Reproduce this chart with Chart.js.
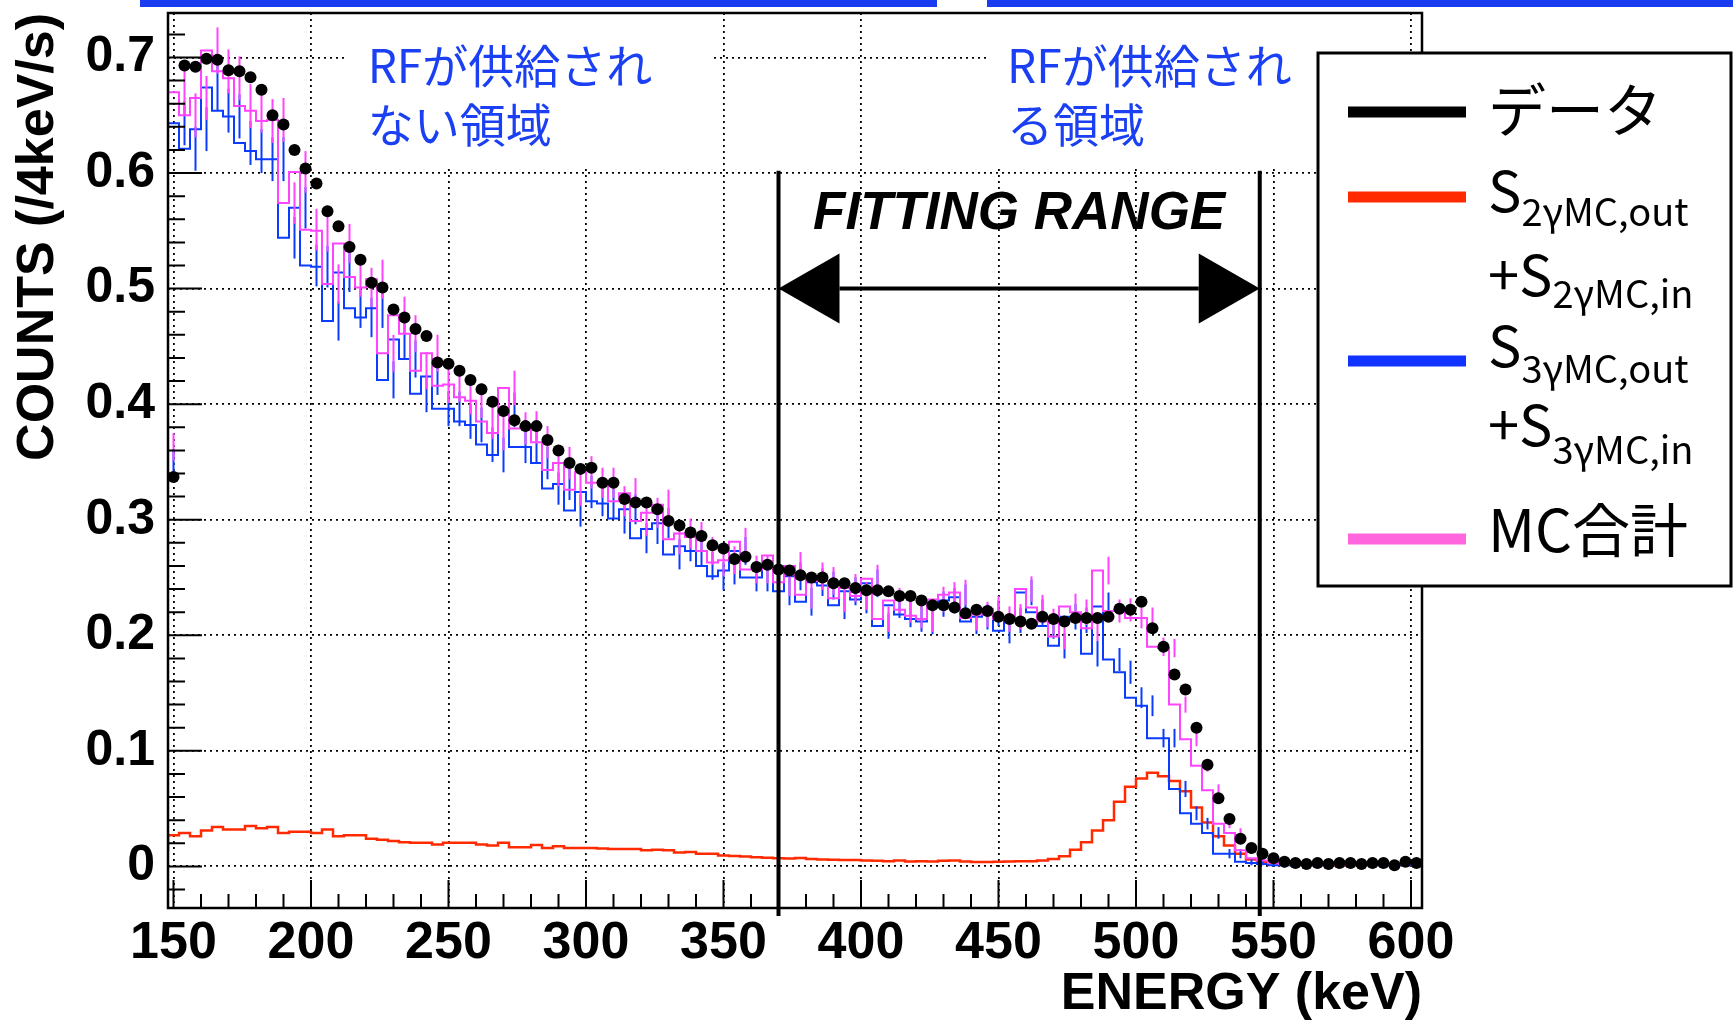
<!DOCTYPE html>
<html>
<head>
<meta charset="utf-8">
<script src="https://cdn.jsdelivr.net/npm/chart.js@4.4.0/dist/chart.umd.min.js"></script>
<style>
  html, body { margin: 0; padding: 0; background: #fff; }
  #wrap { width: 1733px; height: 1021px; position: relative; }
</style>
</head>
<body>
<div id="wrap"><canvas id="spectrum"></canvas></div>
<script>
// 4 keV bins from 148 keV
const binStart = 148;
const binWidth = 4;
const xTicks = [150, 200, 250, 300, 350, 400, 450, 500, 550, 600];
const yTicks = [0, 0.1, 0.2, 0.3, 0.4, 0.5, 0.6, 0.7];
const fitRange = [370, 545];

// data (black points)
const dataCounts = [
  0.337,0.693,0.692,0.699,0.698,0.689,0.688,0.683,0.672,0.650,
  0.642,0.620,0.604,0.591,0.567,0.554,0.536,0.525,0.505,0.501,
  0.482,0.475,0.465,0.459,0.436,0.435,0.429,0.421,0.413,0.402,
  0.394,0.386,0.381,0.381,0.369,0.360,0.349,0.344,0.345,0.332,
  0.332,0.318,0.315,0.315,0.309,0.299,0.295,0.289,0.286,0.278,
  0.275,0.266,0.268,0.259,0.261,0.257,0.256,0.252,0.250,0.250,
  0.245,0.245,0.241,0.239,0.239,0.238,0.234,0.234,0.230,0.226,
  0.226,0.224,0.219,0.222,0.221,0.216,0.214,0.212,0.210,0.216,
  0.214,0.212,0.215,0.215,0.215,0.216,0.223,0.222,0.229,0.206,
  0.190,0.166,0.153,0.120,0.088,0.059,0.041,0.024,0.016,0.011,
  0.007,0.004,0.003,0.002,0.003,0.002,0.003,0.003,0.002,0.003,
  0.003,0.001,0.004,0.003
];
// MC total (magenta)
const mcTotal = [
  0.363,0.670,0.650,0.665,0.706,0.688,0.682,0.658,0.654,0.645,
  0.646,0.574,0.601,0.551,0.550,0.504,0.539,0.510,0.501,0.508,
  0.444,0.477,0.461,0.429,0.444,0.416,0.417,0.406,0.403,0.385,
  0.375,0.414,0.379,0.380,0.367,0.343,0.349,0.326,0.341,0.332,
  0.332,0.316,0.323,0.299,0.306,0.313,0.283,0.288,0.285,0.273,
  0.263,0.265,0.281,0.257,0.257,0.269,0.246,0.260,0.235,0.251,
  0.247,0.232,0.241,0.234,0.249,0.214,0.230,0.222,0.217,0.214,
  0.231,0.235,0.237,0.215,0.218,0.223,0.214,0.216,0.240,0.224,
  0.212,0.199,0.225,0.220,0.206,0.256,0.221,0.222,0.215,0.215,
  0.190,0.189,0.140,0.110,0.087,0.066,0.037,0.029,0.014,0.007,
  0.005,0.003,0.002,0.002,0.002,0.003,0.002,0.001,0.002,0.002,
  0.002,0.002,0.002,0.002
];
// S3gamma MC out+in (blue)
const mc3gamma = [
  0.349,0.643,0.621,0.638,0.674,0.654,0.649,0.626,0.619,0.612,
  0.612,0.544,0.570,0.520,0.519,0.472,0.514,0.483,0.475,0.483,
  0.421,0.456,0.439,0.409,0.424,0.396,0.396,0.385,0.382,0.365,
  0.356,0.395,0.363,0.363,0.349,0.327,0.331,0.308,0.324,0.316,
  0.314,0.301,0.309,0.284,0.292,0.297,0.270,0.277,0.273,0.260,
  0.251,0.256,0.273,0.250,0.250,0.263,0.238,0.251,0.229,0.246,
  0.243,0.226,0.238,0.231,0.245,0.208,0.226,0.218,0.214,0.212,
  0.227,0.230,0.233,0.212,0.216,0.219,0.204,0.213,0.237,0.220,
  0.208,0.191,0.216,0.213,0.184,0.225,0.179,0.168,0.146,0.139,
  0.111,0.111,0.067,0.046,0.037,0.029,0.011,0.011,0.004,0.003,
  0.002,0.001,0.001,0.001,0.001,0.001,0.001,0.001,0.001,0.001,
  0.001,0.001,0.001,0.001
];
// S2gamma MC out+in (red)
const mc2gamma = [
  0.013,0.027,0.029,0.026,0.031,0.034,0.032,0.032,0.035,0.033,
  0.034,0.029,0.030,0.030,0.029,0.032,0.026,0.027,0.027,0.024,
  0.023,0.022,0.021,0.0205,0.0205,0.019,0.0205,0.0205,0.0205,0.019,
  0.018,0.0205,0.0165,0.0165,0.0185,0.016,0.0175,0.016,0.016,0.016,
  0.0155,0.015,0.015,0.015,0.014,0.0145,0.014,0.012,0.0125,0.011,
  0.011,0.0095,0.009,0.0085,0.008,0.0075,0.007,0.0068,0.0072,0.0065,
  0.006,0.0058,0.0055,0.0055,0.005,0.0048,0.0045,0.0052,0.0042,0.0044,
  0.0042,0.0048,0.005,0.0042,0.0038,0.0038,0.004,0.0042,0.0044,0.0045,
  0.005,0.0065,0.0088,0.0145,0.021,0.031,0.040,0.056,0.069,0.076,
  0.081,0.078,0.074,0.065,0.051,0.038,0.026,0.018,0.011,0.006,
  0.004,0.003,0.002,0.0015,0.0012,0.001,0.001,0.001,0.001,0.001,
  0.001,0.001,0.001,0.001
];
// MC statistical errors (blue and magenta bars)
const mcErr = [
  0.012,
  0.019,0.019,0.019,0.020,0.019,0.019,0.019,0.019,0.019,0.019,
  0.018,0.018,0.018,0.018,0.017,0.017,0.017,0.017,0.017,0.016,
  0.016,0.016,0.016,0.016,0.015,0.015,0.015,0.015,0.015,0.015,
  0.015,0.014,0.014,0.014,0.014,0.014,0.014,0.014,0.013,0.013,
  0.013,0.013,0.013,0.013,0.013,0.013,0.013,0.013,0.012,0.012,
  0.012,0.012,0.012,0.012,0.012,0.012,0.012,0.012,0.012,0.012,
  0.012,0.012,0.012,0.012,0.011,0.011,0.011,0.011,0.011,0.011,
  0.011,0.011,0.011,0.011,0.011,0.011,0.011,0.011,0.011,0.011,
  0.011,0.011,0.011,0.011,0.012,0.010,0.010,0.009,0.009,0.008,
  0.008,0.007,0.006,0.005,0.005,0.004,0.004,0.003,0.002,0.002,
  0.002,0.001,0.001,0.001,0.001,0.001,0.001,0.001,0.001,0.001,
  0.001,0.001,0.001
];

const nBins = dataCounts.length;
const edges = dataCounts.map((_, i) => binStart + i * binWidth);
const centers = edges.map(e => e + binWidth / 2);

function stepPoints(vals) {
  const pts = vals.map((v, i) => ({ x: edges[i], y: v }));
  pts.push({ x: edges[nBins - 1] + binWidth, y: vals[nBins - 1] });
  return pts;
}

const BLUE_TXT = '#1b3ff2';

const histDecor = {
  id: 'histDecor',
  afterDatasetDraw(chart, args) {
    const ds = chart.data.datasets[args.index];
    const { x, y } = chart.scales;
    const area = chart.chartArea;
    const ctx = chart.ctx;
    ctx.save();
    ctx.beginPath();
    ctx.rect(area.left, area.top, area.right - area.left, area.bottom - area.top);
    ctx.clip();
    if (ds.errors) {
      ctx.strokeStyle = ds.borderColor;
      ctx.lineWidth = 2;
      ds.values.forEach((v, i) => {
        const px = x.getPixelForValue(centers[i]);
        ctx.beginPath();
        ctx.moveTo(px, y.getPixelForValue(v - ds.errors[i]));
        ctx.lineTo(px, y.getPixelForValue(v + ds.errors[i]));
        ctx.stroke();
      });
    }
    if (ds.hbar) {
      ctx.strokeStyle = '#000';
      ctx.lineWidth = 3;
      ds.values.forEach((v, i) => {
        const py = y.getPixelForValue(v);
        ctx.beginPath();
        ctx.moveTo(x.getPixelForValue(edges[i]), py);
        ctx.lineTo(x.getPixelForValue(edges[i] + binWidth), py);
        ctx.stroke();
      });
    }
    ctx.restore();
  },
  afterDatasetsDraw(chart) {
    const { x, y } = chart.scales;
    const area = chart.chartArea;
    const ctx = chart.ctx;
    ctx.save();

    // white backgrounds behind the annotation text
    ctx.fillStyle = '#fff';
    ctx.fillRect(346, area.top, 364, 155);
    ctx.fillRect(986, area.top, 330, 155);

    // frame
    ctx.strokeStyle = '#000';
    ctx.lineWidth = 2.5;
    ctx.strokeRect(area.left, area.top, area.right - area.left, area.bottom - area.top);

    // inner ticks
    ctx.lineWidth = 2;
    ctx.beginPath();
    for (let k = 15; k <= 60; k++) {
      const v = k * 10;
      const px = x.getPixelForValue(v);
      const len = v % 50 === 0 ? 28 : 14;
      ctx.moveTo(px, area.bottom);
      ctx.lineTo(px, area.bottom - len);
    }
    for (let k = -1; k <= 36; k++) {
      const py = y.getPixelForValue(k * 0.02);
      const len = k % 5 === 0 ? 34 : 17;
      ctx.moveTo(area.left, py);
      ctx.lineTo(area.left + len, py);
    }
    ctx.stroke();

    // fitting range lines
    ctx.lineWidth = 4;
    ctx.beginPath();
    fitRange.forEach(v => {
      const px = x.getPixelForValue(v);
      ctx.moveTo(px, y.getPixelForValue(0.602));
      ctx.lineTo(px, y.getPixelForValue(-0.043));
    });
    ctx.stroke();

    // double arrow
    const ax1 = x.getPixelForValue(fitRange[0]);
    const ax2 = x.getPixelForValue(fitRange[1]);
    const ay = y.getPixelForValue(0.5);
    const hl = 61, hw = 35;
    ctx.beginPath();
    ctx.moveTo(ax1 + hl, ay);
    ctx.lineTo(ax2 - hl, ay);
    ctx.stroke();
    ctx.fillStyle = '#000';
    ctx.beginPath();
    ctx.moveTo(ax1, ay); ctx.lineTo(ax1 + hl, ay - hw); ctx.lineTo(ax1 + hl, ay + hw); ctx.closePath();
    ctx.fill();
    ctx.beginPath();
    ctx.moveTo(ax2, ay); ctx.lineTo(ax2 - hl, ay - hw); ctx.lineTo(ax2 - hl, ay + hw); ctx.closePath();
    ctx.fill();

    ctx.font = 'italic bold 53px "Liberation Sans"';
    ctx.textAlign = 'center';
    ctx.textBaseline = 'middle';
    ctx.fillText('FITTING RANGE', (ax1 + ax2) / 2, y.getPixelForValue(0.564));

    // region labels
    ctx.fillStyle = BLUE_TXT;
    ctx.font = '46px "Noto Sans CJK JP"';
    ctx.textAlign = 'left';
    ctx.fillText('RFが供給され', x.getPixelForValue(220.6), y.getPixelForValue(0.6927));
    ctx.fillText('ない領域', x.getPixelForValue(220.6), y.getPixelForValue(0.6416));
    ctx.fillText('RFが供給され', x.getPixelForValue(453.1), y.getPixelForValue(0.6927));
    ctx.fillText('る領域', x.getPixelForValue(453.1), y.getPixelForValue(0.6416));
    ctx.restore();
  },
  afterDraw(chart) {
    const ctx = chart.ctx;
    ctx.save();
    // slide underline remnants at the top
    ctx.fillStyle = '#1a3cf0';
    ctx.fillRect(140, 0, 797, 7);
    ctx.fillRect(987, 0, 746, 7);

    // legend box
    ctx.fillStyle = '#fff';
    ctx.fillRect(1318, 53, 413, 533);
    ctx.strokeStyle = '#000';
    ctx.lineWidth = 3;
    ctx.strokeRect(1318, 53, 413, 533);

    const items = [
      { color: '#000000', y: 112 },
      { color: '#ff2a00', y: 197 },
      { color: '#1133ff', y: 361 },
      { color: '#ff66dd', y: 539 }
    ];
    ctx.lineWidth = 11;
    items.forEach(it => {
      ctx.strokeStyle = it.color;
      ctx.beginPath();
      ctx.moveTo(1348, it.y);
      ctx.lineTo(1466, it.y);
      ctx.stroke();
    });

    ctx.fillStyle = '#000';
    ctx.textAlign = 'left';
    ctx.textBaseline = 'middle';
    ctx.font = '58px "Noto Sans CJK JP"';
    ctx.fillText('データ', 1488, 110);
    ctx.textBaseline = 'alphabetic';
    ctx.fillText('MC合計', 1488, 552);

    function subText(main, sub, x0, yMain, ySub) {
      ctx.font = '56px "Noto Sans CJK JP"';
      ctx.fillText(main, x0, yMain);
      const w = ctx.measureText(main).width;
      ctx.font = '38px "Noto Sans CJK JP"';
      ctx.fillText(sub, x0 + w, ySub);
    }
    subText('S', '2γMC,out', 1488, 212, 226);
    subText('+S', '2γMC,in', 1488, 296, 308);
    subText('S', '3γMC,out', 1488, 367, 383);
    subText('+S', '3γMC,in', 1488, 446, 464);
    ctx.restore();
  }
};

const ctx = document.getElementById('spectrum').getContext('2d');

const gridStyle = {
  color: '#000',
  lineWidth: 1.8,
  drawTicks: false
};

new Chart(ctx, {
  type: 'line',
  data: {
    datasets: [
      {
        label: 'データ',
        type: 'scatter',
        data: centers.map((c, i) => ({ x: c, y: dataCounts[i] })),
        values: dataCounts,
        hbar: true,
        showLine: false,
        pointRadius: 6,
        pointHoverRadius: 6,
        pointBackgroundColor: '#000',
        pointBorderWidth: 0
      },
      {
        label: 'MC合計',
        data: stepPoints(mcTotal),
        values: mcTotal,
        errors: mcErr,
        stepped: 'after',
        borderColor: '#ff44ff',
        borderWidth: 2,
        pointRadius: 0,
        fill: false
      },
      {
        label: 'S3γMC,out+S3γMC,in',
        data: stepPoints(mc3gamma),
        values: mc3gamma,
        errors: mcErr,
        stepped: 'after',
        borderColor: '#0a3cff',
        borderWidth: 2,
        pointRadius: 0,
        fill: false
      },
      {
        label: 'S2γMC,out+S2γMC,in',
        data: stepPoints(mc2gamma),
        values: mc2gamma,
        stepped: 'after',
        borderColor: '#ff2a00',
        borderWidth: 2.5,
        pointRadius: 0,
        fill: false
      }
    ]
  },
  options: {
    responsive: true,
    maintainAspectRatio: false,
    animation: false,
    layout: { padding: { left: 0, right: 311, top: 13, bottom: 0 } },
    plugins: {
      legend: { display: false },
      tooltip: { enabled: false }
    },
    scales: {
      x: {
        type: 'linear',
        min: 148,
        max: 604,
        afterBuildTicks: (scale) => { scale.ticks = xTicks.map(v => ({ value: v })); },
        afterFit: (scale) => {
          scale.height = 113;
          scale.paddingLeft = 0;
          scale.paddingRight = 0;
        },
        grid: Object.assign({}, gridStyle),
        border: { display: false, dash: [2, 4] },
        ticks: {
          color: '#000',
          padding: 4,
          maxRotation: 0,
          autoSkip: false,
          font: { family: 'Liberation Sans', weight: 'bold', size: 52, lineHeight: 1.2 },
          callback: (v) => String(v)
        },
        title: {
          display: true,
          text: 'ENERGY (keV)',
          align: 'end',
          color: '#000',
          padding: 0,
          font: { family: 'Liberation Sans', weight: 'bold', size: 52, lineHeight: 1 }
        }
      },
      y: {
        type: 'linear',
        min: -0.036,
        max: 0.7385,
        afterBuildTicks: (scale) => { scale.ticks = yTicks.map(v => ({ value: v })); },
        afterFit: (scale) => {
          scale.width = 168;
          scale.paddingTop = 0;
          scale.paddingBottom = 0;
        },
        grid: Object.assign({}, gridStyle),
        border: { display: false, dash: [2, 4] },
        ticks: {
          color: '#000',
          padding: 13,
          autoSkip: false,
          font: { family: 'Liberation Sans', weight: 'bold', size: 50 },
          callback: (v) => String(Math.round(v * 10) / 10)
        },
        title: {
          display: true,
          text: 'COUNTS (/4keV/s)',
          align: 'end',
          color: '#000',
          padding: { top: 13, bottom: 0 },
          font: { family: 'Liberation Sans', weight: 'bold', size: 52, lineHeight: 1 }
        }
      }
    }
  },
  plugins: [histDecor]
});
</script>
</body>
</html>
